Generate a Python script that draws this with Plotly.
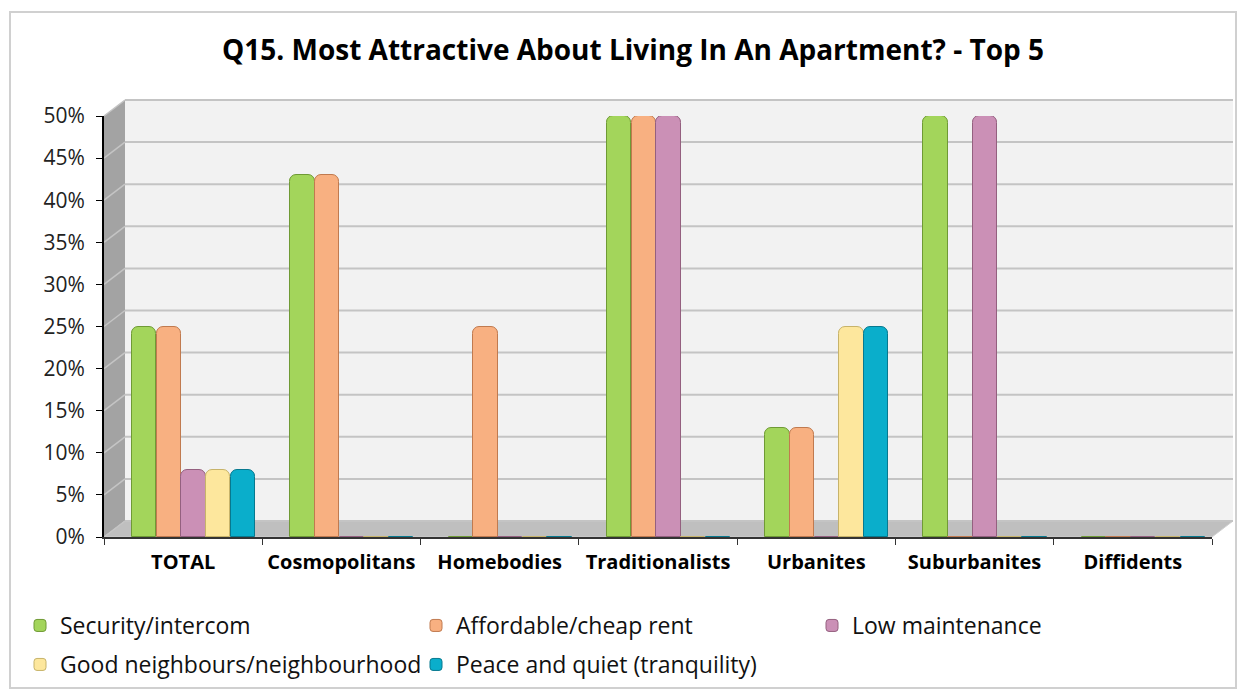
import plotly.graph_objects as go

title = "Q15. Most Attractive About Living In An Apartment? - Top 5"
categories = ["TOTAL", "Cosmopolitans", "Homebodies", "Traditionalists",
              "Urbanites", "Suburbanites", "Diffidents"]
series_names = ["Security/intercom", "Affordable/cheap rent", "Low maintenance",
                "Good neighbours/neighbourhood", "Peace and quiet (tranquility)"]
security = [25, 43, 0, 50, 13, 50, 0]
affordable = [25, 43, 25, 50, 13, 0, 0]
low_maint = [8, 0, 0, 50, 0, 50, 0]
neighbours = [8, 0, 0, 0, 25, 0, 0]
peace = [8, 0, 0, 0, 25, 0, 0]
y_ticks = [0, 5, 10, 15, 20, 25, 30, 35, 40, 45, 50]

colors = ["#a3d55b", "#f8b081", "#cb90b6", "#fde79d", "#0aaecb"]
edges = ["#6f9a35", "#c07a4f", "#94607f", "#c7b36a", "#07798f"]

W, H = 1229, 682
L, R, T, B = 96, 1204, 108, 529
pw, ph = R - L, B - T
dxp, dyp = 21 / pw, 16 / ph
ymax = y_ticks[-1]

fig = go.Figure()
values = [security, affordable, low_maint, neighbours, peace]
bw = 0.154
start = -0.323
for i, (name, vals) in enumerate(zip(series_names, values)):
    fig.add_trace(go.Bar(
        x=categories, y=vals, name=name,
        marker=dict(color=colors[i], line=dict(color=edges[i], width=1), cornerradius=7),
        width=bw, offset=start + i * (bw + 0.002),
        legend="legend" if i < 3 else "legend2",
    ))

shapes = []
shapes.append(dict(type="rect", xref="paper", yref="paper", x0=dxp, x1=1 + dxp,
                   y0=dyp, y1=1 + dyp, fillcolor="#f2f2f2", line=dict(width=0), layer="below"))
shapes.append(dict(type="path", xref="paper", yref="paper",
                   path=f"M 0 0 L {dxp} {dyp} L {dxp} {1+dyp} L 0 1 Z",
                   fillcolor="#a3a3a3", line=dict(width=0), layer="below"))
shapes.append(dict(type="path", xref="paper", yref="paper",
                   path=f"M 0 0 L {dxp} {dyp} L {1+dxp} {dyp} L 1 0 Z",
                   fillcolor="#bfbfbf", line=dict(color="#d0d0d0", width=1), layer="below"))
for v in y_ticks:
    yp = v / ymax
    shapes.append(dict(type="line", xref="paper", yref="paper", x0=dxp, x1=1 + dxp,
                       y0=yp + dyp, y1=yp + dyp, line=dict(color="#c4c4c4", width=2), layer="below"))
    shapes.append(dict(type="line", xref="paper", yref="paper", x0=0, x1=dxp,
                       y0=yp, y1=yp + dyp, line=dict(color="#c4c4c4", width=1.5), layer="below"))
shapes.append(dict(type="rect", xref="paper", yref="paper",
                   x0=(2 - L) / pw, x1=(1228 - L) / pw,
                   y0=(B - 680) / ph, y1=(B - 4) / ph,
                   line=dict(color="#d0d0d0", width=2), fillcolor="rgba(0,0,0,0)", layer="below"))

legend_common = dict(orientation="h", xanchor="left", yanchor="top",
                     entrywidth=351, entrywidthmode="pixels", traceorder="normal",
                     font=dict(family="Open Sans", size=23, color="#111111"),
                     bgcolor="rgba(0,0,0,0)")

fig.update_layout(
    width=W, height=H,
    margin=dict(l=L, r=W - R, t=T, b=H - B, autoexpand=False),
    paper_bgcolor="white", plot_bgcolor="rgba(0,0,0,0)",
    barmode="overlay",
    title=dict(text=f"<b>{title}</b>", x=625 / W, xanchor="center", y=1 - 42 / H, yanchor="middle",
               font=dict(family="Open Sans", size=28, color="#000000")),
    xaxis=dict(type="category", showgrid=False, showline=True, linecolor="#333333", linewidth=2,
               ticks="outside", tickson="boundaries", ticklen=6, tickcolor="#333333",
               ticklabelstandoff=6,
               tickfont=dict(family="Open Sans", size=20, color="#000000", weight="bold"),
               range=[-0.5, 6.5], fixedrange=True),
    yaxis=dict(range=[0, ymax], tickvals=y_ticks, ticktext=[f"{v}%" for v in y_ticks],
               showgrid=False, zeroline=False, showline=True, linecolor="#000000", linewidth=2,
               ticks="outside", ticklen=6, tickcolor="#000000", ticklabelstandoff=7,
               tickfont=dict(family="Open Sans", size=21, color="#222222")),
    legend=dict(x=(12 - L) / pw, y=(B - 596) / ph, **legend_common),
    legend2=dict(x=(12 - L) / pw, y=(B - 635) / ph, **legend_common),
    shapes=shapes,
    bargap=0,
)

fig.write_html("out.html")
